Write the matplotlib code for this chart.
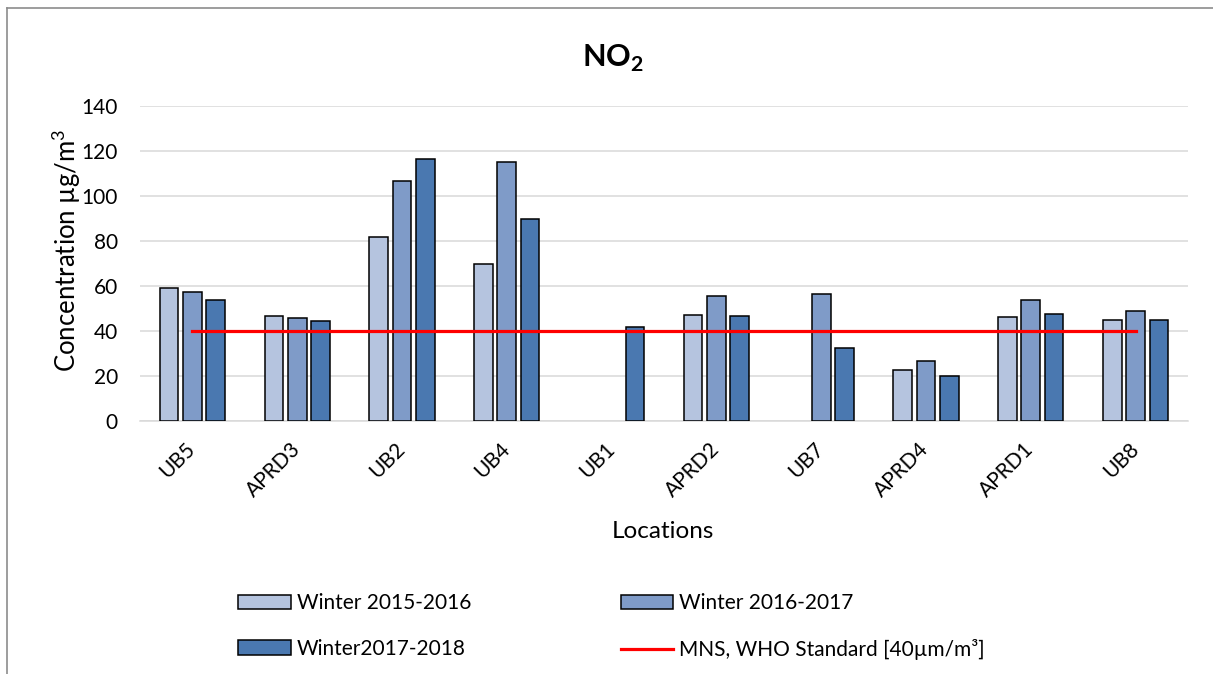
import numpy as np
import matplotlib
matplotlib.use('Agg')
import matplotlib.pyplot as plt
from matplotlib.lines import Line2D

plt.rcParams['font.family'] = ['Lato', 'DejaVu Sans']
plt.rcParams['mathtext.fontset'] = 'custom'
plt.rcParams['mathtext.rm'] = 'Lato'
plt.rcParams['mathtext.bf'] = 'Lato:bold'

# data
locations = ['UB5', 'APRD3', 'UB2', 'UB4', 'UB1', 'APRD2', 'UB7', 'APRD4', 'APRD1', 'UB8']
winter_2015_2016 = [58.9, 46.6, 81.6, 69.6, np.nan, 47.2, np.nan, 22.5, 46.4, 44.8]
winter_2016_2017 = [57.3, 45.7, 106.7, 114.9, np.nan, 55.5, 56.5, 26.8, 53.9, 48.7]
winter_2017_2018 = [54.0, 44.6, 116.5, 90.0, 42.0, 46.7, 32.4, 19.8, 47.6, 45.1]
who_standard = [40] * len(locations)

series = [
    ('Winter 2015-2016', winter_2015_2016, '#B5C4DF'),
    ('Winter 2016-2017', winter_2016_2017, '#7F9BC8'),
    ('Winter2017-2018', winter_2017_2018, '#4A78B0'),
]

W, H = 1213, 674
fig = plt.figure(figsize=(W / 100, H / 100), dpi=100)
ax = fig.add_axes([140 / W, 1 - 421 / H, (1188 - 140) / W, (421 - 106) / H])

x = np.arange(len(locations))
step = 0.223
width = 0.178
handles = []
for i, (name, vals, col) in enumerate(series):
    b = ax.bar(x + (i - 1) * step, vals, width, color=col, edgecolor='black',
               linewidth=1.1, zorder=3, label=name)
    handles.append(b)

line, = ax.plot(x, who_standard, color='#FF0000', linewidth=2.3, zorder=4,
                label='MNS, WHO Standard [40\u00b5m/m\u00b3]')

ax.set_xlim(-0.5, len(locations) - 0.5)
ax.set_ylim(0, 140)
ax.set_yticks(range(0, 141, 20))
ax.yaxis.grid(True, color='#D9D9D9', linewidth=1.1, zorder=0)
ax.set_axisbelow(True)
for s in ['top', 'right', 'left']:
    ax.spines[s].set_visible(False)
ax.spines['bottom'].set_color('#D9D9D9')
ax.spines['bottom'].set_linewidth(1.1)
ax.tick_params(axis='both', length=0, labelsize=15, colors='black')
ax.tick_params(axis='y', pad=16)
ax.set_xticks(x)
ax.set_xticklabels(locations, rotation=45, ha='right', va='center',
                   rotation_mode='anchor')
ax.tick_params(axis='x', pad=18)

# axis titles
fig.text(66 / W, 1 - 250 / H, 'Concentration \u00b5g/m$^3$', fontsize=18.5,
         rotation=90, ha='center', va='center')
fig.text(663 / W, 1 - 531 / H, 'Locations', fontsize=17.5, ha='center', va='center')
fig.text(0.505, 1 - 58 / H, 'NO$_\\mathbf{2}$', fontsize=22, fontweight='bold',
         ha='center', va='center')

# legend fills column first -> order gives two rows like the original
fig.legend(handles=[handles[0], handles[2], handles[1], line],
           loc='upper left', bbox_to_anchor=(228 / W, 1 - 583 / H),
           ncol=2, frameon=False, fontsize=15, borderpad=0,
           handlelength=2.5, handleheight=0.67, handletextpad=0.29,
           columnspacing=7.2, labelspacing=1.22)

# chart border (top and left visible)
fig.add_artist(Line2D([7 / W, 1], [1 - 8 / H, 1 - 8 / H], color='#8C8C8C', linewidth=1.2))
fig.add_artist(Line2D([7 / W, 7 / W], [0, 1 - 8 / H], color='#8C8C8C', linewidth=1.2))

fig.savefig('out.png', dpi=100)
